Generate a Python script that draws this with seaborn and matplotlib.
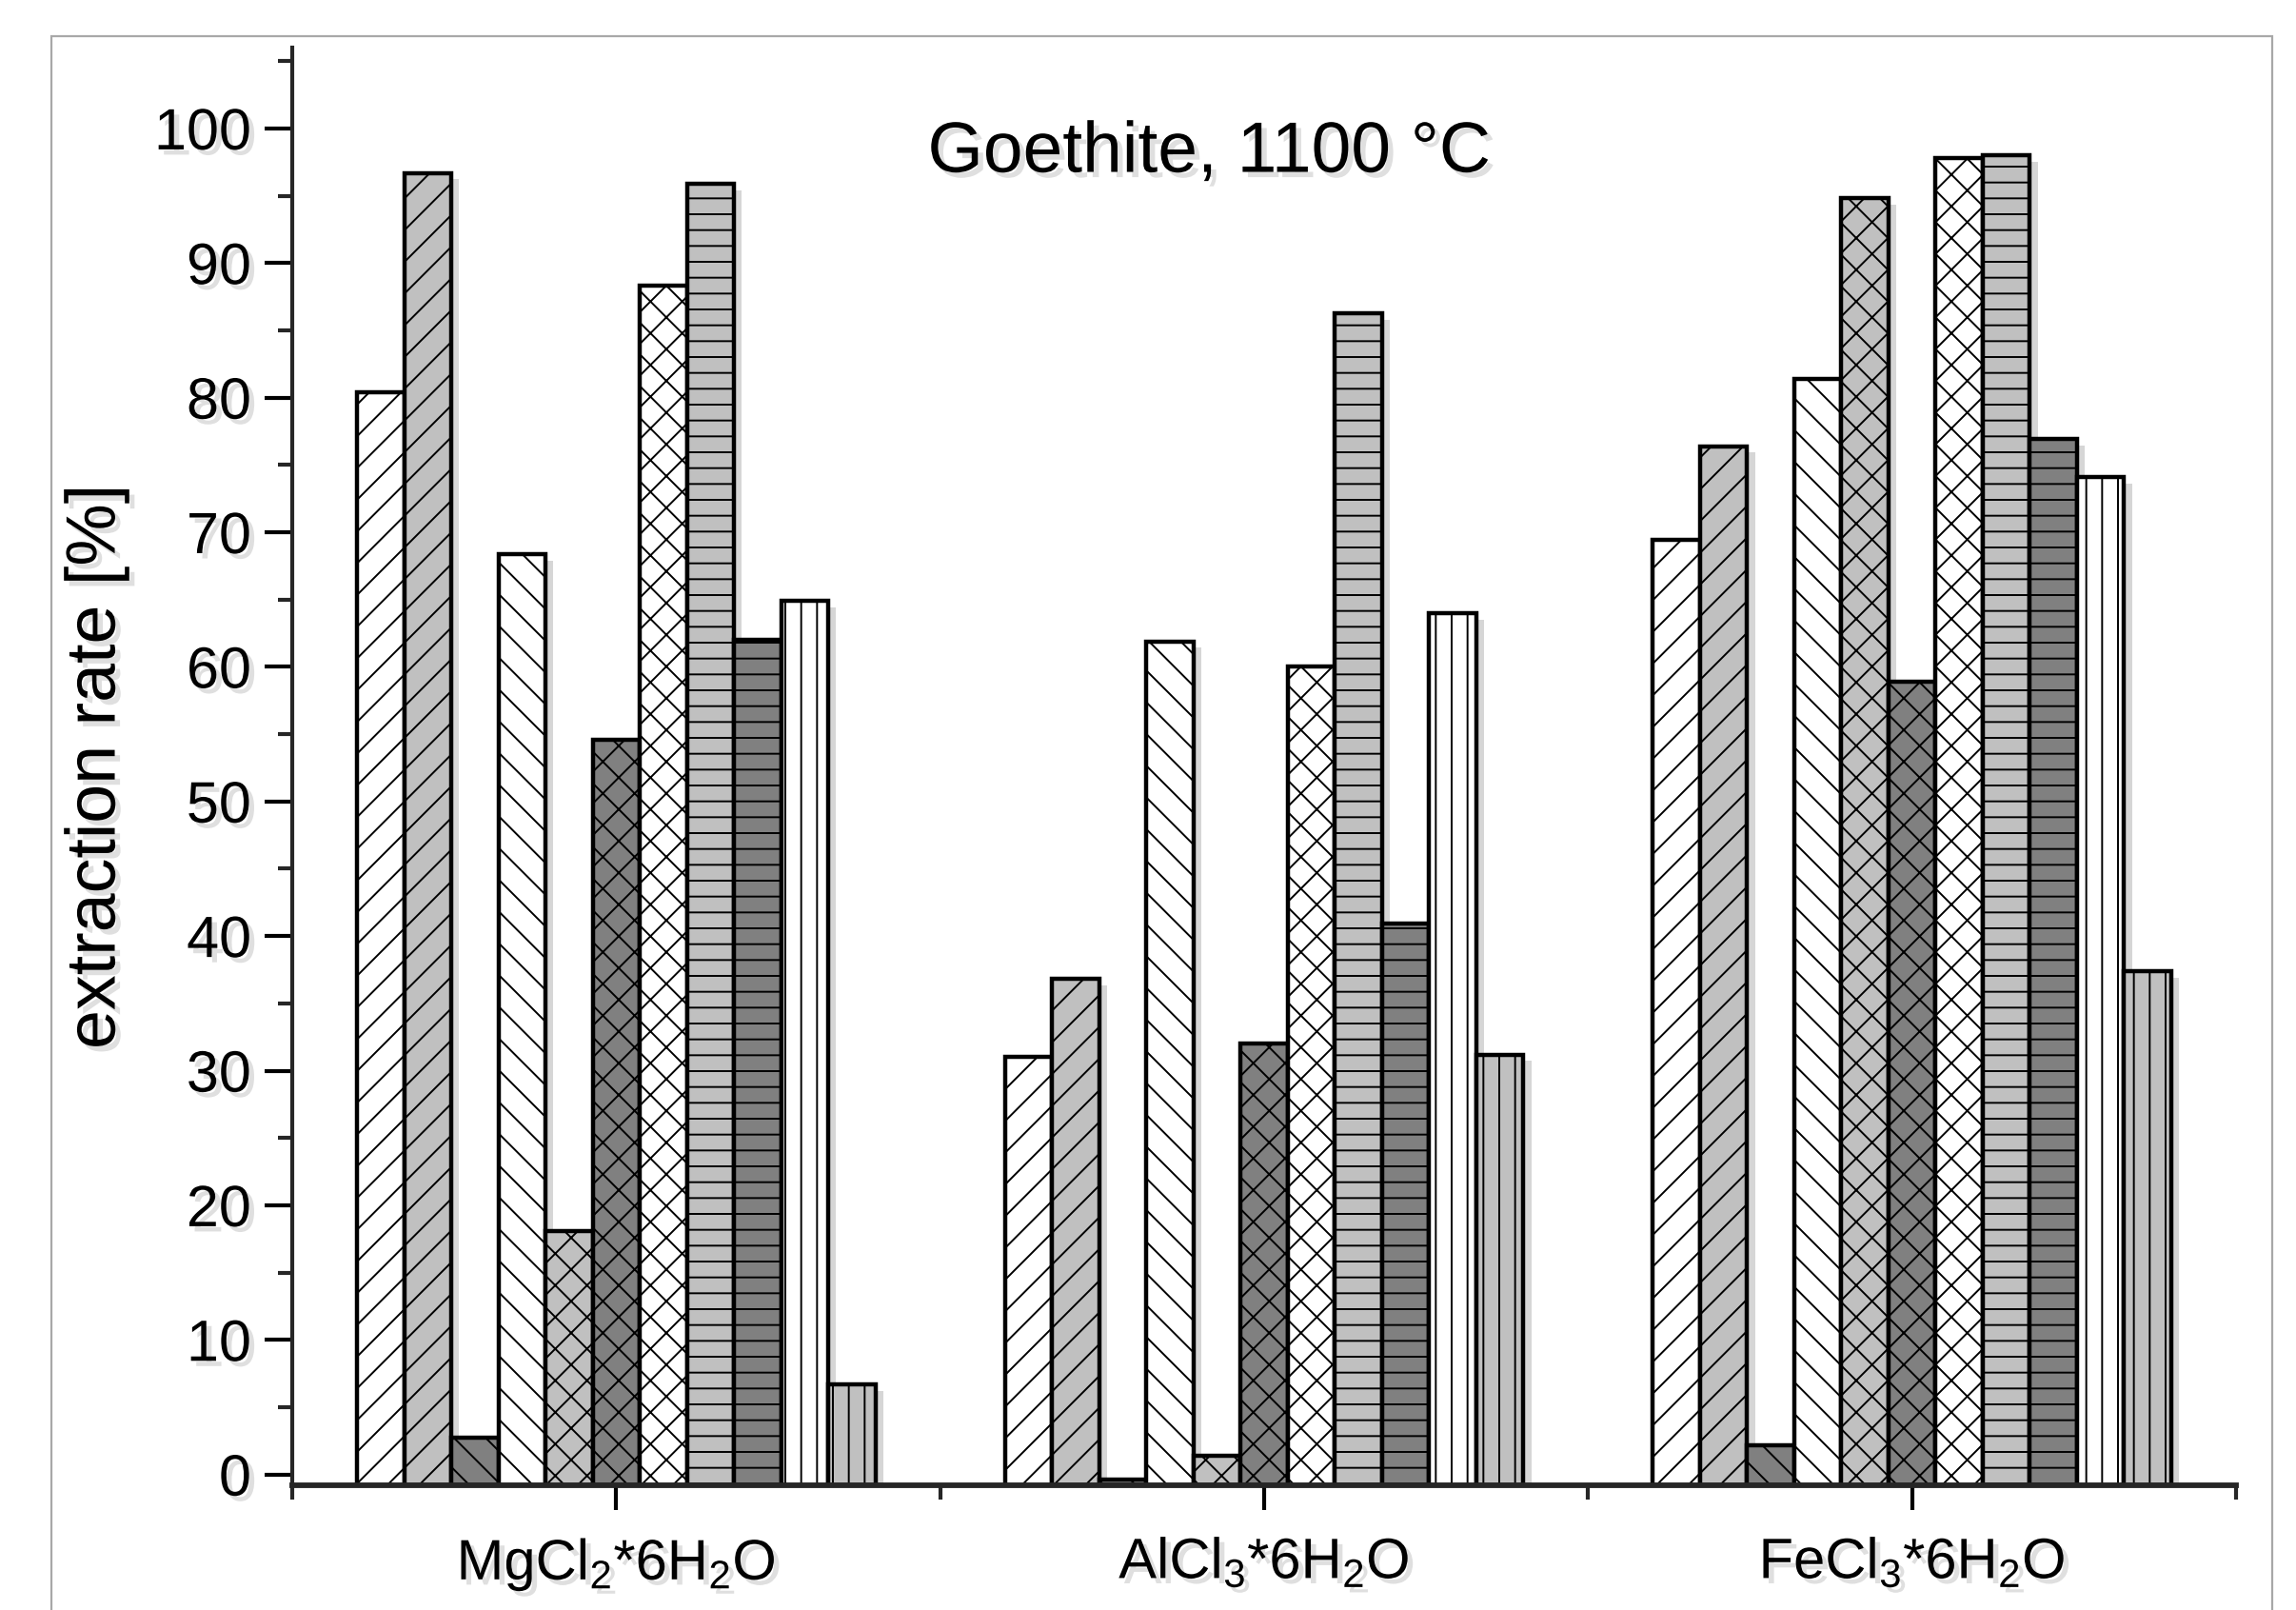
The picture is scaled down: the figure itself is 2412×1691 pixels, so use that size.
import matplotlib
matplotlib.use("Agg")
import matplotlib.pyplot as plt
import seaborn as sns
import pandas as pd
from matplotlib import patheffects as pe
from matplotlib.patches import Rectangle
from matplotlib.ticker import MultipleLocator, FixedLocator

# ---------------- data ----------------
groups = ["MgCl$_2$*6H$_2$O", "AlCl$_3$*6H$_2$O", "FeCl$_3$*6H$_2$O"]
series = ["S1", "S2", "S3", "S4", "S5", "S6", "S7", "S8", "S9", "S10", "S11"]
mg_values = [80.4, 96.7, 2.7, 68.4, 18.1, 54.6, 88.3, 95.9, 62.0, 64.9, 6.7]
al_values = [31.0, 36.8, -0.4, 61.9, 1.4, 32.0, 60.0, 86.3, 40.9, 64.0, 31.2]
fe_values = [69.4, 76.4, 2.2, 81.4, 94.8, 58.9, 97.8, 98.0, 76.9, 74.1, 37.4]
fill_colors = ["#ffffff", "#c0c0c0", "#808080", "#ffffff", "#c0c0c0", "#808080",
               "#ffffff", "#c0c0c0", "#808080", "#ffffff", "#c0c0c0"]
hatch_styles = ["/", "/", "\\", "\\", "x", "x", "x", "-", "-", "|", "|"]
y_ticks = [0, 10, 20, 30, 40, 50, 60, 70, 80, 90, 100]
title_text = "Goethite, 1100 °C"
y_label = "extraction rate [%]"

rows = []
for g, vals in zip(groups, [mg_values, al_values, fe_values]):
    for s, v in zip(series, vals):
        rows.append({"group": g, "series": s, "value": v})
df = pd.DataFrame(rows)

# ---------------- style ----------------
sns.set_theme(style="ticks")
plt.rcParams["font.family"] = ["Liberation Sans", "DejaVu Sans"]
plt.rcParams["mathtext.fontset"] = "custom"
plt.rcParams["mathtext.rm"] = "Liberation Sans"
plt.rcParams["mathtext.it"] = "Liberation Sans"
plt.rcParams["mathtext.default"] = "regular"
plt.rcParams["hatch.linewidth"] = 1.4
plt.rcParams["hatch.color"] = "black"

fig = plt.figure(figsize=(24.12, 16.91), dpi=100)
fig.patch.set_facecolor("white")
ax = fig.add_axes([0.1273, 0.0775, 0.9739 - 0.1273, 0.9704 - 0.0775])

sns.barplot(data=df, x="group", y="value", hue="series", order=groups,
            hue_order=series, palette=fill_colors, saturation=1, width=0.8,
            edgecolor="black", linewidth=3.2, errorbar=None, legend=False, ax=ax)

ybase = -0.8
bar_shadow = pe.SimplePatchShadow(offset=(6, -5), shadow_rgbFace="0.55", alpha=0.35, hatch=None)
for cont, h in zip(ax.containers, hatch_styles):
    for bar in cont:
        bar.set_hatch(h)
        top = bar.get_y() + bar.get_height()
        bar.set_y(ybase)
        bar.set_height(top - ybase)
        bar.set_path_effects([bar_shadow, pe.Normal()])

ax.set_xlim(-0.5, 2.5)
ax.set_ylim(ybase, 106)
ax.yaxis.set_major_locator(FixedLocator(y_ticks))
ax.yaxis.set_minor_locator(MultipleLocator(5))
ax.xaxis.set_minor_locator(FixedLocator([-0.5, 0.5, 1.5, 2.5]))

sns.despine(ax=ax)
ax.spines["left"].set_linewidth(3)
ax.spines["bottom"].set_linewidth(4.2)
ax.tick_params(axis="y", which="major", direction="out", length=21, width=3,
               labelsize=44, pad=10, colors="black")
ax.tick_params(axis="y", which="minor", direction="out", length=11, width=3)
ax.tick_params(axis="x", which="major", direction="out", length=19, width=3,
               labelsize=43, pad=20, colors="black")
ax.tick_params(axis="x", which="minor", direction="out", length=11, width=3)

txt_shadow = [pe.SimplePatchShadow(offset=(4, -4), shadow_rgbFace="0.5", alpha=0.25), pe.Normal()]
for lab in ax.get_xticklabels() + ax.get_yticklabels():
    lab.set_path_effects(txt_shadow)

ax.set_xlabel("")
ax.set_ylabel(y_label, fontsize=53, color="black")
ax.yaxis.set_label_coords(-0.084, 0.5)
ax.yaxis.label.set_path_effects(txt_shadow)

ax.text(0.4716, 0.9265, title_text, transform=ax.transAxes, ha="center",
        va="center", fontsize=54, color="black", path_effects=txt_shadow)

# outer frame
fig.patches.append(Rectangle((0.0224, -0.1), 0.9896 - 0.0224, 0.9775 + 0.1,
                             transform=fig.transFigure, fill=False,
                             edgecolor="#a8a8a8", linewidth=1.6, zorder=-1))

fig.savefig("out.png", dpi=100, facecolor="white")
